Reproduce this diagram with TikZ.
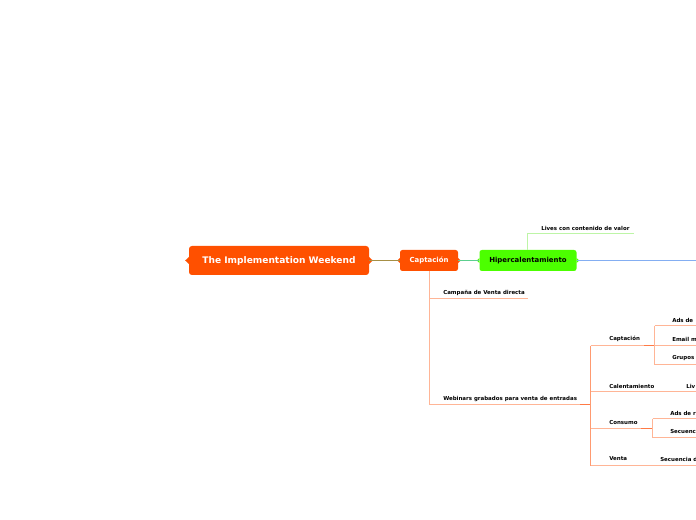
\documentclass[tikz,border=0pt]{standalone}
\usepackage{fontspec}
\setmainfont{DejaVu Sans}
\definecolor{orgc}{HTML}{FF5000}
\definecolor{grnc}{HTML}{4CFF00}
\definecolor{olive}{HTML}{A68F45}
\definecolor{teal}{HTML}{5CCF8E}
\definecolor{bluel}{HTML}{84AEF2}
\definecolor{lgreen}{HTML}{BDF5A6}
\definecolor{salmon}{HTML}{FFB596}
\definecolor{dkorg}{HTML}{FF7A45}
\definecolor{midorg}{HTML}{FF9A70}
\begin{document}
\begin{tikzpicture}[x=0.75pt,y=-0.75pt,
  topbox/.style={fill=orgc, rounded corners=2.2pt, text=white, inner sep=0pt,
    font=\bfseries\fontsize{6.8}{8}\selectfont},
  subbox/.style={rounded corners=1.8pt, inner sep=0pt, font=\bfseries\fontsize{5.2}{6}\selectfont},
  lbl/.style={anchor=west, inner sep=0pt, font=\bfseries\fontsize{4.1}{4.6}\selectfont, text=black},
  conn/.style={line width=0.8pt},
  lite/.style={conn, draw=salmon},
  dark/.style={line width=1.1pt, draw=dkorg},
]
\useasboundingbox (0,0) rectangle (696,520);
\clip (0,0) rectangle (696,520);

% main nodes
\node[topbox, minimum width=135pt, minimum height=21.75pt] (root) at (279,260.5) {The Implementation Weekend};
\node[subbox, fill=orgc, text=white, minimum width=43.5pt, minimum height=15.75pt] (capt) at (429,260.5) {Captación};
\node[subbox, fill=grnc, text=black, minimum width=72.75pt, minimum height=15.75pt] (hiper) at (528,260.5) {Hipercalentamiento};

% notches
\fill[orgc] (root.west) ++(-3.5,0) -- ++(3.6,-3.5) -- ++(0,7) -- cycle;
\fill[orgc] (root.east) ++(3.5,0) -- ++(-3.6,-3.5) -- ++(0,7) -- cycle;
\fill[orgc] (capt.west) ++(-2.5,0) -- ++(2.6,-2.5) -- ++(0,5) -- cycle;
\fill[orgc] (capt.east) ++(2.5,0) -- ++(-2.6,-2.5) -- ++(0,5) -- cycle;
\fill[grnc] (hiper.west) ++(-2.5,0) -- ++(2.6,-2.5) -- ++(0,5) -- cycle;
\fill[grnc] (hiper.east) ++(2.5,0) -- ++(-2.6,-2.5) -- ++(0,5) -- cycle;

% main connectors
\coordinate (blueend) at (700,260.5);
\draw[conn, draw=olive] (root.east) -- (capt.west);
\draw[conn, draw=teal] (capt.east) -- (hiper.west);
\draw[conn, draw=bluel] (hiper.east) -- (blueend);

% Lives
\node[lbl] (lives) at (541,228) {Lives con contenido de valor};
\coordinate (livesL) at (527.5,233.5);
\coordinate (livesR) at (634,233.5);
\draw[conn, draw=lgreen] (hiper.north -| livesL) -- (livesL) -- (livesR);

% Captacion children
\node[lbl] (camp) at (443,293) {Campaña de Venta directa};
\node[lbl] (web) at (443,399) {Webinars grabados para venta de entradas};
\coordinate (cx) at (429.5,298.5);
\coordinate (campR) at (528,298.5);
\coordinate (webL) at (429.5,404.5);
\coordinate (webJ) at (590.5,404.5);
\coordinate (webD) at (580,404.5);
\draw[lite] (capt.south -| cx) -- (webL) -- (webJ);
\draw[lite] (cx) -- (campR);
\draw[dark] (webD) -- (webJ);

% Webinars children
\coordinate (vtop) at (590.5,345.5);
\coordinate (vbot) at (590.5,465.5);
\draw[conn, draw=midorg] (vtop) -- (vbot);

\node[lbl] (c2) at (609,339) {Captación};
\node[lbl] (cal) at (609,386) {Calentamiento};
\node[lbl] (cons) at (609,423) {Consumo};
\node[lbl] (venta) at (609,459) {Venta};

\coordinate (c2J) at (654.5,345.5);
\coordinate (c2D) at (644,345.5);
\draw[lite] (vtop) -- (c2J);
\draw[dark] (c2D) -- (c2J);
\coordinate (calL) at (590.5,391.5);
\coordinate (calR) at (700,391.5);
\draw[lite] (calL) -- (calR);
\coordinate (consL) at (590.5,428.5);
\coordinate (consJ) at (652.5,428.5);
\coordinate (consD) at (641,428.5);
\draw[lite] (consL) -- (consJ);
\draw[dark] (consD) -- (consJ);
\coordinate (ventaR) at (700,465.5);
\draw[lite] (vbot) -- (ventaR);

% Captacion (2) children
\node[lbl] (ads1) at (672,320) {Ads de};
\node[lbl] (email) at (672,339) {Email m};
\node[lbl] (grupos) at (672,358) {Grupos};
\coordinate (a1) at (654.5,325.5);
\coordinate (a3) at (654.5,364.5);
\draw[lite] (a1) -- (a3);
\draw[lite] (a1) -- (700,325.5);
\draw[lite] (c2J) -- (700,345.5);
\draw[lite] (a3) -- (700,364.5);

% Calentamiento child
\node[lbl] (liv2) at (686,386) {Liv};

% Consumo children
\node[lbl] (ads2) at (670,413) {Ads de r};
\node[lbl] (sec1) at (670,432) {Secuenc};
\coordinate (b1) at (652.5,418.5);
\coordinate (b2) at (652.5,437.5);
\draw[lite] (b1) -- (b2);
\draw[lite] (b1) -- (700,418.5);
\draw[lite] (b2) -- (700,437.5);

% Venta child
\node[lbl] (sec2) at (660,459) {Secuencia d};
\end{tikzpicture}
\end{document}
